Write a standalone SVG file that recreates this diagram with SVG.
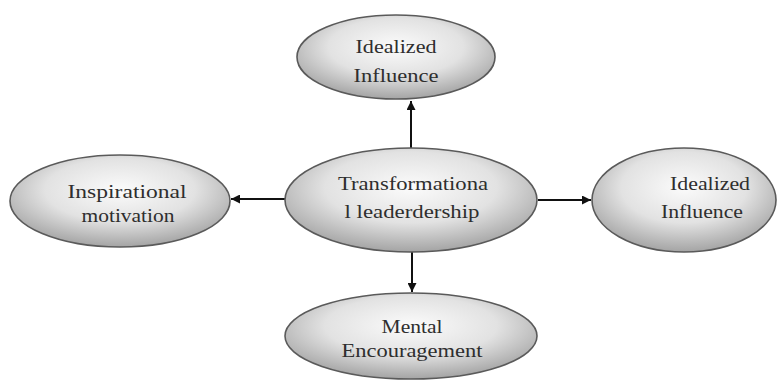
<svg xmlns="http://www.w3.org/2000/svg" width="779" height="389" viewBox="0 0 779 389">
<defs>
<radialGradient id="g" cx="50%" cy="38%" r="62%">
<stop offset="0" stop-color="#fbfbfb"/>
<stop offset="0.55" stop-color="#e2e2e2"/>
<stop offset="1" stop-color="#a4a4a4"/>
</radialGradient>
<marker id="ah" viewBox="0 0 10 10" refX="10" refY="5" markerWidth="9" markerHeight="9" markerUnits="userSpaceOnUse" orient="auto">
<path d="M0,0 L10,5 L0,10 z" fill="#111"/>
</marker>
</defs>
<style>
.n ellipse{fill:url(#g);stroke:#5a5a5a;stroke-width:1.6}
.n text{font-family:"Liberation Serif","DejaVu Serif",serif;font-size:19px;fill:#2e2e2e;text-anchor:middle}
.c line{stroke:#111;stroke-width:2;marker-end:url(#ah)}
</style>
<rect width="779" height="389" fill="#fff"/>
<g class="c" id="connectors">
<line x1="411" y1="148" x2="411" y2="101"/>
<line x1="285" y1="199" x2="231" y2="199"/>
<line x1="538" y1="200" x2="591" y2="200"/>
<line x1="412" y1="252" x2="412" y2="292"/>
</g>
<g class="n" id="top">
<ellipse cx="396" cy="57" rx="99" ry="42"/>
<text x="396" y="53" textLength="81" lengthAdjust="spacingAndGlyphs">Idealized</text>
<text x="396" y="82" textLength="85" lengthAdjust="spacingAndGlyphs">Influence</text>
</g>
<g class="n" id="center">
<ellipse cx="411" cy="200" rx="126" ry="52"/>
<text x="413" y="190" textLength="150" lengthAdjust="spacingAndGlyphs">Transformationa</text>
<text x="412" y="218" textLength="135" lengthAdjust="spacingAndGlyphs">l leaderdership</text>
</g>
<g class="n" id="left">
<ellipse cx="120" cy="201" rx="110" ry="46"/>
<text x="127" y="198" textLength="119" lengthAdjust="spacingAndGlyphs">Inspirational</text>
<text x="128" y="222" textLength="93" lengthAdjust="spacingAndGlyphs">motivation</text>
</g>
<g class="n" id="right">
<ellipse cx="684" cy="200" rx="92" ry="52"/>
<text x="710" y="190" textLength="80" lengthAdjust="spacingAndGlyphs">Idealized</text>
<text x="702" y="218" textLength="82" lengthAdjust="spacingAndGlyphs">Influence</text>
</g>
<g class="n" id="bottom">
<ellipse cx="411" cy="336" rx="126" ry="43"/>
<text x="412" y="333" textLength="61" lengthAdjust="spacingAndGlyphs">Mental</text>
<text x="412" y="357" textLength="141" lengthAdjust="spacingAndGlyphs">Encouragement</text>
</g>
</svg>
